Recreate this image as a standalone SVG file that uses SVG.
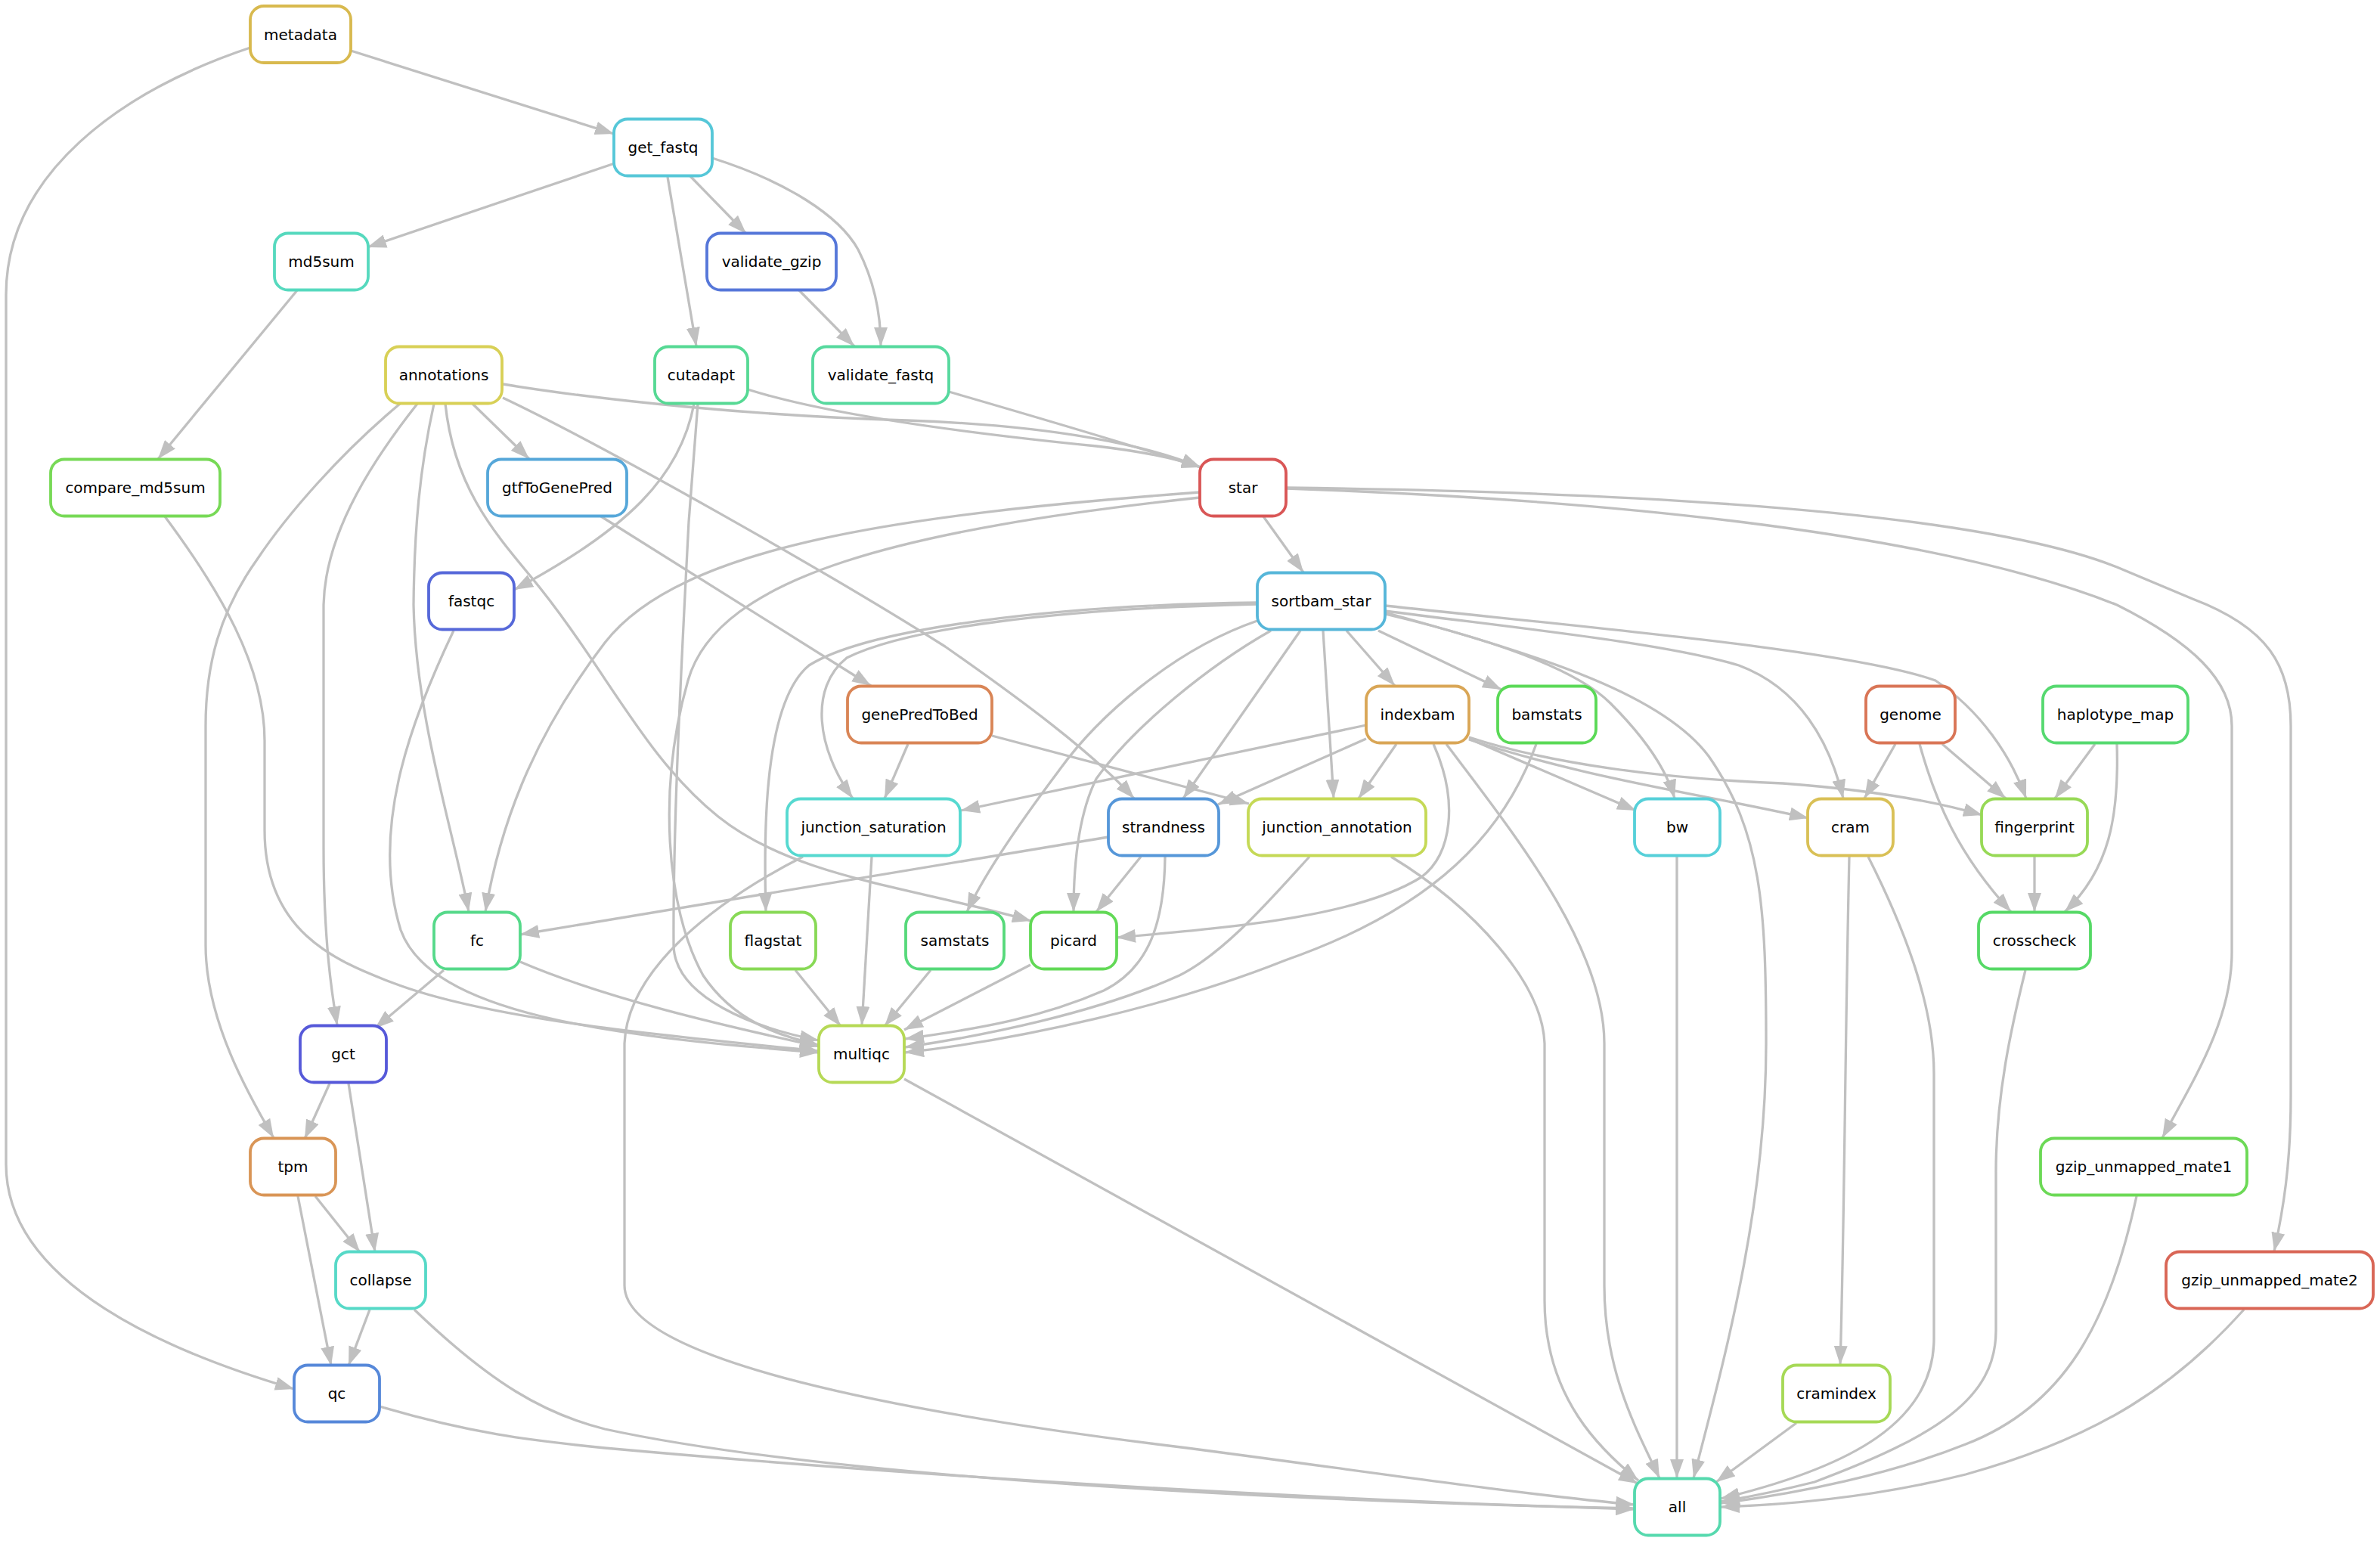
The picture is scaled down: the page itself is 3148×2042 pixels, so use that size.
<svg xmlns="http://www.w3.org/2000/svg" width="3148" height="2042" viewBox="0 0 3148 2042">
<style>
.n rect{fill:#fff;stroke-width:3.8}
.n text{font-family:"DejaVu Sans","Liberation Sans",sans-serif;font-size:20px;fill:#000;text-anchor:middle}
.e path{fill:none;stroke:#c0c0c0;stroke-width:3.3;marker-end:url(#ah)}
</style>
<defs>
<marker id="ah" markerUnits="userSpaceOnUse" markerWidth="25" markerHeight="18" viewBox="0 0 25 18" refX="25" refY="9" orient="auto"><path d="M0,0 L25,9 L0,18 z" fill="#c0c0c0"/></marker>
</defs>
<rect width="3148" height="2042" fill="#fff"/>
<g id="edges" class="e">
<path d="M464,67 L812,177"/>
<path d="M331,63 C160,120 8,230 8,390 L8,1540 C8,1700 230,1790 389,1837"/>
<path d="M813,216 L486,327"/>
<path d="M913,233 L987,309"/>
<path d="M883,234 L921,458"/>
<path d="M942,209 C1040,240 1110,285 1135,330 C1158,375 1165,420 1165,458"/>
<path d="M1057,384 L1130,458"/>
<path d="M393,384 L209,607"/>
<path d="M218,683 C290,780 350,880 350,980 L350,1098 C350,1230 440,1270 520,1300 C650,1350 900,1372 1083,1390"/>
<path d="M665,508 C800,530 1000,550 1200,556 C1400,563 1520,590 1588,618"/>
<path d="M625,534 L700,607"/>
<path d="M665,526 C800,590 1100,760 1250,855 C1350,925 1445,995 1500,1056"/>
<path d="M589,534 C600,640 650,700 700,760 C800,880 850,1000 950,1080 C1050,1160 1200,1172 1364,1218"/>
<path d="M574,534 C555,620 548,700 547,800 C550,950 600,1100 620,1206"/>
<path d="M552,534 C500,600 430,700 428,800 L428,1120 C428,1250 440,1320 446,1356"/>
<path d="M529,534 C450,600 380,680 340,740 C290,810 272,880 272,960 L272,1250 C272,1350 330,1450 362,1505"/>
<path d="M989,515 C1100,550 1300,575 1450,590 C1520,598 1560,608 1588,618"/>
<path d="M918,534 C900,630 830,700 680,780"/>
<path d="M923,534 L911,690 C900,900 890,1100 891,1250 C892,1320 1000,1360 1083,1376"/>
<path d="M1255,518 C1400,560 1500,590 1588,618"/>
<path d="M795,683 L1152,907"/>
<path d="M600,834 C540,960 490,1100 530,1230 C570,1340 800,1370 1083,1392"/>
<path d="M1671,683 L1724,757"/>
<path d="M1587,651 C1200,680 900,720 800,850 C700,980 660,1100 642,1206"/>
<path d="M1587,658 C1200,700 950,760 910,900 C870,1040 880,1200 930,1290 C970,1350 1030,1370 1083,1382"/>
<path d="M1701,646 C2100,660 2550,700 2800,800 C2900,850 2952,900 2952,960 L2952,1260 C2952,1350 2900,1430 2860,1505"/>
<path d="M1701,645 C2100,650 2600,670 2800,750 L2900,792 C3000,830 3030,880 3030,960 L3030,1450 C3030,1540 3020,1600 3008,1655"/>
<path d="M1663,799 C1400,805 1200,830 1120,870 C1070,910 1080,990 1128,1056"/>
<path d="M1663,797 C1400,800 1150,830 1070,880 C1010,930 1010,1100 1013,1206"/>
<path d="M1663,821 C1550,860 1450,950 1400,1020 C1340,1100 1300,1160 1279,1206"/>
<path d="M1681,834 C1600,880 1500,960 1450,1030 C1425,1080 1420,1150 1420,1206"/>
<path d="M1720,834 L1565,1056"/>
<path d="M1750,834 L1764,1056"/>
<path d="M1781,834 L1845,907"/>
<path d="M1823,834 L1986,912"/>
<path d="M1832,812 C1950,840 2080,880 2130,930 C2180,980 2205,1020 2215,1056"/>
<path d="M1832,808 C2000,830 2200,850 2300,880 C2380,910 2420,980 2438,1056"/>
<path d="M1832,801 C2100,830 2450,860 2560,900 C2620,940 2660,1000 2680,1056"/>
<path d="M1832,810 C2050,870 2200,920 2260,1000 C2330,1100 2336,1200 2336,1380 C2336,1600 2280,1800 2240,1955"/>
<path d="M1201,984 L1170,1056"/>
<path d="M1312,973 L1652,1063"/>
<path d="M1807,959 L1271,1072"/>
<path d="M1807,977 L1611,1064"/>
<path d="M1847,984 L1797,1056"/>
<path d="M1896,984 C1930,1060 1920,1130 1880,1160 C1800,1210 1650,1225 1477,1240"/>
<path d="M1943,977 L2164,1072"/>
<path d="M1943,978 C2100,1030 2250,1050 2392,1082"/>
<path d="M1943,975 C2050,1010 2200,1030 2358,1036 C2480,1045 2560,1060 2622,1078"/>
<path d="M1913,984 C2000,1100 2122,1250 2122,1380 L2122,1700 C2122,1820 2170,1900 2195,1955"/>
<path d="M2032,984 C1990,1100 1900,1200 1700,1270 C1550,1330 1350,1375 1197,1392"/>
<path d="M2507,984 L2466,1056"/>
<path d="M2569,984 L2653,1056"/>
<path d="M2539,984 C2560,1060 2590,1130 2660,1206"/>
<path d="M2771,984 L2718,1056"/>
<path d="M2800,984 C2803,1080 2790,1150 2731,1206"/>
<path d="M1153,1133 L1140,1356"/>
<path d="M1062,1133 C950,1190 830,1280 826,1380 L826,1700 C826,1800 1200,1870 1570,1915 C1800,1945 2000,1975 2162,1990"/>
<path d="M1466,1107 L688,1236"/>
<path d="M1509,1133 L1450,1206"/>
<path d="M1541,1133 C1540,1220 1520,1280 1460,1310 C1380,1345 1300,1360 1197,1374"/>
<path d="M1732,1133 C1680,1190 1620,1260 1560,1290 C1450,1340 1300,1370 1197,1385"/>
<path d="M1840,1133 C1950,1200 2040,1300 2043,1380 L2043,1720 C2043,1850 2120,1920 2167,1958"/>
<path d="M2218,1133 L2218,1955"/>
<path d="M2446,1133 C2440,1400 2440,1600 2434,1805"/>
<path d="M2471,1133 C2520,1230 2558,1330 2558,1420 L2558,1770 C2558,1880 2450,1940 2276,1982"/>
<path d="M2691,1133 L2691,1206"/>
<path d="M2679,1283 C2660,1360 2640,1450 2640,1550 L2640,1760 C2640,1850 2560,1900 2400,1960 C2340,1975 2300,1982 2276,1986"/>
<path d="M688,1272 C800,1320 950,1355 1083,1384"/>
<path d="M587,1283 L496,1360"/>
<path d="M1052,1283 L1112,1357"/>
<path d="M1231,1283 L1170,1357"/>
<path d="M1363,1276 L1196,1362"/>
<path d="M436,1433 L403,1506"/>
<path d="M461,1433 L496,1656"/>
<path d="M417,1582 L476,1656"/>
<path d="M394,1582 L438,1806"/>
<path d="M489,1732 L461,1806"/>
<path d="M548,1732 C650,1830 720,1870 800,1890 C1100,1955 1700,1985 2162,1995"/>
<path d="M502,1860 C620,1895 700,1905 800,1915 C1300,1960 1800,1985 2162,1996"/>
<path d="M1196,1427 L2166,1962"/>
<path d="M2376,1882 L2270,1960"/>
<path d="M2826,1582 C2790,1750 2730,1860 2600,1910 C2500,1950 2380,1975 2276,1988"/>
<path d="M2968,1732 C2880,1830 2780,1900 2600,1950 C2480,1980 2370,1990 2276,1993"/>
</g>
<g id="metadata" class="n"><rect x="331" y="8" width="133" height="75" rx="18" stroke="#D8B94E"/><text x="397.5" y="52.5">metadata</text></g>
<g id="get_fastq" class="n"><rect x="812" y="157.5" width="130" height="75" rx="18" stroke="#56C7D8"/><text x="877" y="202">get_fastq</text></g>
<g id="md5sum" class="n"><rect x="363" y="308.5" width="124" height="75" rx="18" stroke="#56D9BE"/><text x="425" y="353">md5sum</text></g>
<g id="validate_gzip" class="n"><rect x="935" y="308.5" width="171" height="75" rx="18" stroke="#5677D9"/><text x="1020.5" y="353">validate_gzip</text></g>
<g id="annotations" class="n"><rect x="510" y="458.5" width="154" height="75" rx="18" stroke="#D8D056"/><text x="587" y="503">annotations</text></g>
<g id="cutadapt" class="n"><rect x="866" y="458.5" width="123" height="75" rx="18" stroke="#56D994"/><text x="927.5" y="503">cutadapt</text></g>
<g id="validate_fastq" class="n"><rect x="1075" y="458.5" width="180" height="75" rx="18" stroke="#56D99E"/><text x="1165" y="503">validate_fastq</text></g>
<g id="compare_md5sum" class="n"><rect x="67" y="607.5" width="224" height="75" rx="18" stroke="#77D956"/><text x="179" y="652">compare_md5sum</text></g>
<g id="gtfToGenePred" class="n"><rect x="645" y="607.5" width="184" height="75" rx="18" stroke="#56A7D9"/><text x="737" y="652">gtfToGenePred</text></g>
<g id="star" class="n"><rect x="1587" y="607.5" width="114" height="75" rx="18" stroke="#D95656"/><text x="1644" y="652">star</text></g>
<g id="fastqc" class="n"><rect x="567" y="757.5" width="113" height="75" rx="18" stroke="#5668D9"/><text x="623.5" y="802">fastqc</text></g>
<g id="sortbam_star" class="n"><rect x="1663" y="757.5" width="169" height="75" rx="18" stroke="#56B6D9"/><text x="1747.5" y="802">sortbam_star</text></g>
<g id="genePredToBed" class="n"><rect x="1121" y="907.5" width="191" height="75" rx="18" stroke="#D98556"/><text x="1216.5" y="952">genePredToBed</text></g>
<g id="indexbam" class="n"><rect x="1807" y="907.5" width="136" height="75" rx="18" stroke="#D9A656"/><text x="1875" y="952">indexbam</text></g>
<g id="bamstats" class="n"><rect x="1981" y="907.5" width="130" height="75" rx="18" stroke="#5AD956"/><text x="2046" y="952">bamstats</text></g>
<g id="genome" class="n"><rect x="2468" y="907.5" width="118" height="75" rx="18" stroke="#D97556"/><text x="2527" y="952">genome</text></g>
<g id="haplotype_map" class="n"><rect x="2702" y="907.5" width="192" height="75" rx="18" stroke="#56D970"/><text x="2798" y="952">haplotype_map</text></g>
<g id="junction_saturation" class="n"><rect x="1041" y="1056.5" width="229" height="75" rx="18" stroke="#56D9D0"/><text x="1155.5" y="1101">junction_saturation</text></g>
<g id="strandness" class="n"><rect x="1466" y="1056.5" width="146" height="75" rx="18" stroke="#5697D9"/><text x="1539" y="1101">strandness</text></g>
<g id="junction_annotation" class="n"><rect x="1651" y="1056.5" width="235" height="75" rx="18" stroke="#C5D956"/><text x="1768.5" y="1101">junction_annotation</text></g>
<g id="bw" class="n"><rect x="2162" y="1056.5" width="113" height="75" rx="18" stroke="#56D0D9"/><text x="2218.5" y="1101">bw</text></g>
<g id="cram" class="n"><rect x="2391" y="1056.5" width="113" height="75" rx="18" stroke="#D9C056"/><text x="2447.5" y="1101">cram</text></g>
<g id="fingerprint" class="n"><rect x="2621" y="1056.5" width="140" height="75" rx="18" stroke="#97D956"/><text x="2691" y="1101">fingerprint</text></g>
<g id="fc" class="n"><rect x="574" y="1206.5" width="114" height="75" rx="18" stroke="#56D98A"/><text x="631" y="1251">fc</text></g>
<g id="flagstat" class="n"><rect x="966" y="1206.5" width="113" height="75" rx="18" stroke="#88D956"/><text x="1022.5" y="1251">flagstat</text></g>
<g id="samstats" class="n"><rect x="1198" y="1206.5" width="130" height="75" rx="18" stroke="#56D97A"/><text x="1263" y="1251">samstats</text></g>
<g id="picard" class="n"><rect x="1363" y="1206.5" width="114" height="75" rx="18" stroke="#62D956"/><text x="1420" y="1251">picard</text></g>
<g id="crosscheck" class="n"><rect x="2617" y="1206.5" width="148" height="75" rx="18" stroke="#56D966"/><text x="2691" y="1251">crosscheck</text></g>
<g id="gct" class="n"><rect x="397" y="1356.5" width="114" height="75" rx="18" stroke="#5659D9"/><text x="454" y="1401">gct</text></g>
<g id="multiqc" class="n"><rect x="1083" y="1356.5" width="113" height="75" rx="18" stroke="#B6D956"/><text x="1139.5" y="1401">multiqc</text></g>
<g id="tpm" class="n"><rect x="331" y="1505.5" width="113" height="75" rx="18" stroke="#D99556"/><text x="387.5" y="1550">tpm</text></g>
<g id="gzip_unmapped_mate1" class="n"><rect x="2699" y="1505.5" width="273" height="75" rx="18" stroke="#6CD956"/><text x="2835.5" y="1550">gzip_unmapped_mate1</text></g>
<g id="collapse" class="n"><rect x="444" y="1655.5" width="119" height="75" rx="18" stroke="#56D9C7"/><text x="503.5" y="1700">collapse</text></g>
<g id="gzip_unmapped_mate2" class="n"><rect x="2865" y="1655.5" width="274" height="75" rx="18" stroke="#D96656"/><text x="3002" y="1700">gzip_unmapped_mate2</text></g>
<g id="qc" class="n"><rect x="389" y="1805.5" width="113" height="75" rx="18" stroke="#5688D9"/><text x="445.5" y="1850">qc</text></g>
<g id="cramindex" class="n"><rect x="2358" y="1805.5" width="142" height="75" rx="18" stroke="#A6D956"/><text x="2429" y="1850">cramindex</text></g>
<g id="all" class="n"><rect x="2162" y="1955.5" width="113" height="75" rx="18" stroke="#56D9AE"/><text x="2218.5" y="2000">all</text></g>
</svg>
